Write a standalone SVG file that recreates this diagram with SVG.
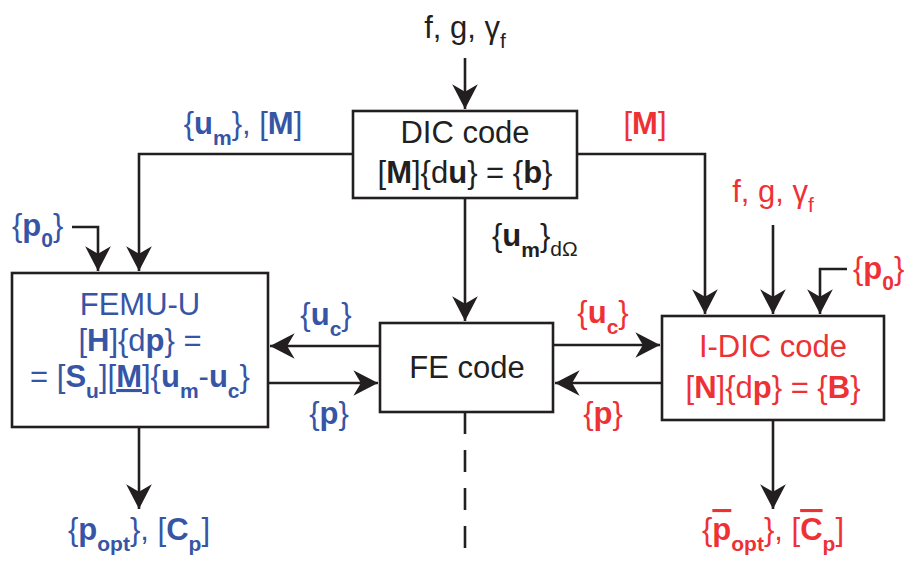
<svg xmlns="http://www.w3.org/2000/svg" width="909" height="563" viewBox="0 0 909 563">
<style>
text{font-family:"Liberation Sans",Arial,sans-serif;font-size:31px}
.k{fill:#231f20}.b{fill:#3755a5}.r{fill:#ee3135}
.B{font-weight:bold}
.s{font-size:21px}
.box{fill:#fff;stroke:#231f20;stroke-width:2.6}
.ln{fill:none;stroke:#231f20;stroke-width:2.6}
</style>
<defs>
<marker id="ah" markerUnits="userSpaceOnUse" markerWidth="30" markerHeight="30" viewBox="-26 -14 28 28" refX="0" refY="0" orient="auto">
<path d="M0,0 L-23,-12 L-16,0 L-23,12 Z" fill="#231f20"/>
</marker>
</defs>
<g id="connectors">
<path class="ln" d="M465,58 V109" marker-end="url(#ah)"/>
<path class="ln" d="M353,154 H139 V271" marker-end="url(#ah)"/>
<path class="ln" d="M72,227 H98 V271" marker-end="url(#ah)"/>
<path class="ln" d="M577,154 H705 V314" marker-end="url(#ah)"/>
<path class="ln" d="M773,225 V314" marker-end="url(#ah)"/>
<path class="ln" d="M847,269 H820 V314" marker-end="url(#ah)"/>
<path class="ln" d="M465,198 V321" marker-end="url(#ah)"/>
<path class="ln" d="M380,346 H270" marker-end="url(#ah)"/>
<path class="ln" d="M268,383 H378" marker-end="url(#ah)"/>
<path class="ln" d="M553,345 H660" marker-end="url(#ah)"/>
<path class="ln" d="M662,383 H555" marker-end="url(#ah)"/>
<path class="ln" d="M139,427 V509" marker-end="url(#ah)"/>
<path class="ln" d="M773,420 V509" marker-end="url(#ah)"/>
<path class="ln" d="M465,412 V563" stroke-dasharray="22 16"/>
</g>
<g id="dic">
<rect class="box" x="353" y="111" width="224" height="87"/>
<text class="k" x="465" y="143" text-anchor="middle">DIC code</text>
<text class="k" x="465" y="183" text-anchor="middle">[<tspan class="B">M</tspan>]{d<tspan class="B">u</tspan>} = {<tspan class="B">b</tspan>}</text>
</g>
<g id="femu">
<rect class="box" x="12" y="273" width="256" height="154"/>
<text class="b" x="140" y="315" text-anchor="middle">FEMU-U</text>
<text class="b" x="140" y="351" text-anchor="middle">[<tspan class="B">H</tspan>]{d<tspan class="B">p</tspan>} =</text>
<text class="b" x="140" y="387" text-anchor="middle">= [<tspan class="B">S</tspan><tspan class="B s" dy="11">u</tspan><tspan dy="-11">][</tspan><tspan class="B" text-decoration="underline">M</tspan>]{<tspan class="B">u</tspan><tspan class="B s" dy="11">m</tspan><tspan dy="-11">-</tspan><tspan class="B">u</tspan><tspan class="B s" dy="11">c</tspan><tspan dy="-11">}</tspan></text>
</g>
<g id="fe">
<rect class="box" x="380" y="323" width="173" height="89"/>
<text class="k" x="467" y="378" text-anchor="middle">FE code</text>
</g>
<g id="idic">
<rect class="box" x="662" y="316" width="222" height="104"/>
<text class="r" x="773" y="357" text-anchor="middle">I-DIC code</text>
<text class="r" x="773" y="398" text-anchor="middle">[<tspan class="B">N</tspan>]{d<tspan class="B">p</tspan>} = {<tspan class="B">B</tspan>}</text>
</g>
<g id="labels">
<text class="k" x="465" y="38" text-anchor="middle">f, g, γ<tspan class="s" dy="10">f</tspan></text>
<text class="b" x="243" y="134" text-anchor="middle">{<tspan class="B">u</tspan><tspan class="B s" dy="11">m</tspan><tspan dy="-11">}, [</tspan><tspan class="B">M</tspan>]</text>
<text class="b" x="12" y="236">{<tspan class="B">p</tspan><tspan class="B s" dy="11">0</tspan><tspan dy="-11">}</tspan></text>
<text class="k" x="492" y="246">{<tspan class="B">u</tspan><tspan class="B s" dy="11">m</tspan><tspan dy="-11">}</tspan><tspan class="s" dy="10">dΩ</tspan></text>
<text class="r" x="645" y="134" text-anchor="middle">[<tspan class="B">M</tspan>]</text>
<text class="r" x="773" y="202" text-anchor="middle">f, g, γ<tspan class="s" dy="10">f</tspan></text>
<text class="r" x="853" y="279">{<tspan class="B">p</tspan><tspan class="B s" dy="11">0</tspan><tspan dy="-11">}</tspan></text>
<text class="b" x="326" y="325" text-anchor="middle">{<tspan class="B">u</tspan><tspan class="B s" dy="11">c</tspan><tspan dy="-11">}</tspan></text>
<text class="b" x="329" y="424" text-anchor="middle">{<tspan class="B">p</tspan>}</text>
<text class="r" x="603" y="323" text-anchor="middle">{<tspan class="B">u</tspan><tspan class="B s" dy="11">c</tspan><tspan dy="-11">}</tspan></text>
<text class="r" x="603" y="424" text-anchor="middle">{<tspan class="B">p</tspan>}</text>
<text class="b" x="139" y="540" text-anchor="middle">{<tspan class="B">p</tspan><tspan class="B s" dy="11">opt</tspan><tspan dy="-11">}, [</tspan><tspan class="B">C</tspan><tspan class="B s" dy="11">p</tspan><tspan dy="-11">]</tspan></text>
<text class="r" x="773" y="540" text-anchor="middle">{<tspan class="B" text-decoration="overline">p</tspan><tspan class="B s" dy="11">opt</tspan><tspan dy="-11">}, [</tspan><tspan class="B" text-decoration="overline">C</tspan><tspan class="B s" dy="11">p</tspan><tspan dy="-11">]</tspan></text>
</g>
</svg>
